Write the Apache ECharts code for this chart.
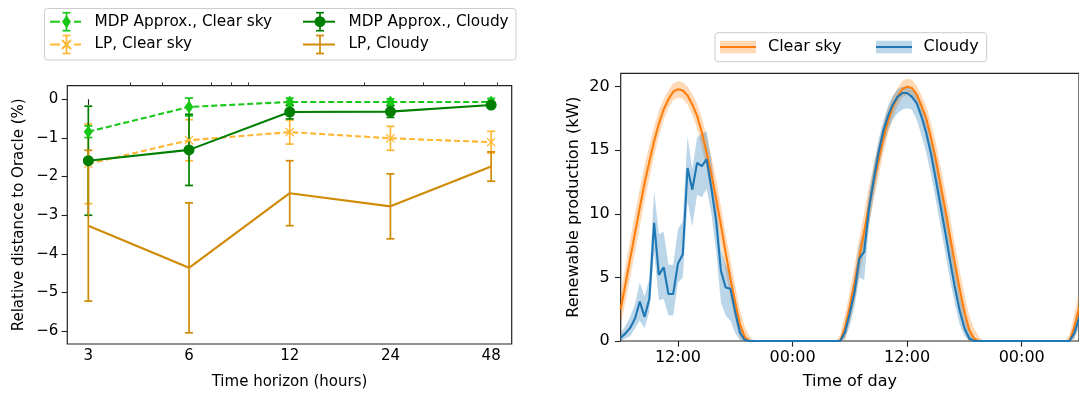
<!DOCTYPE html>
<html><head><meta charset="utf-8">
<script src="https://cdn.jsdelivr.net/npm/echarts@6/dist/echarts.min.js"></script>
<style>html,body{margin:0;padding:0;background:#fff;}#c{width:1079px;height:395px;}</style>
</head><body><div id="c"></div>
<script>
// ================= Left chart data =================
const horizons = [3, 6, 12, 24, 48];
const horizonTickLabels = ['3', '6', '12', '24', '48'];
const horizonMinorTicks = [4, 5, 7, 8, 9, 20, 30, 40, 50];
const horizonRange = [2.596, 55.3];
const yTicksLeft = [-6, -5, -4, -3, -2, -1, 0];
const yRangeLeft = [-6.33, 0.35];

const mdpClear = [-0.84, -0.20, -0.07, -0.07, -0.07];
const mdpClearErr = [0.15, 0.23, 0.10, 0.08, 0.09];
const lpClear = [-1.67, -1.06, -0.85, -1.01, -1.11];
const lpClearErr = [1.03, 0.53, 0.31, 0.31, 0.28];
const mdpCloudy = [-1.59, -1.31, -0.33, -0.32, -0.15];
const mdpCloudyErr = [1.41, 0.92, 0.18, 0.15, 0.05];
const lpCloudy = [-3.27, -4.36, -2.43, -2.77, -1.74];
const lpCloudyErr = [1.95, 1.68, 0.84, 0.84, 0.38];

// ================= Right chart data (every 30 min from 06:00, 48 h) =================
const timeStepHours = 0.5;
const timeTicks = [6, 18, 30, 42];
const timeTickLabels = ['12:00', '00:00', '12:00', '00:00'];
const prodTicks = [0, 5, 10, 15, 20];
const prodMax = 21.05;

const clearSky = [
  2.5, 4.5, 6.5, 8.5, 10.5, 12.4, 14.1, 15.7, 17.1, 18.2, 19.0, 19.6, 19.8, 19.7,
  19.3, 18.6, 17.7, 16.4, 14.8, 13.1, 11.2, 9.1, 6.9, 4.9, 3.0, 1.3, 0.3, 0,
  0, 0, 0, 0, 0, 0, 0, 0, 0, 0, 0, 0, 0, 0, 0, 0, 0, 0,
  0, 1.1, 2.7,
  4.6, 6.6, 8.6, 10.6, 12.5, 14.2, 15.9, 17.3, 18.4, 19.2, 19.8, 20.0, 19.9, 19.4,
  18.5, 17.5, 16.0, 14.3, 12.3, 10.3, 8.2, 6.1, 4.1, 2.3, 0.9, 0.2, 0,
  0, 0, 0, 0, 0, 0, 0, 0, 0, 0, 0, 0, 0, 0, 0, 0, 0, 0,
  0, 1.1, 2.6
];
const clearSpread = [
  1.2, 1.4, 1.5, 1.5, 1.5, 1.4, 1.3, 1.15, 1.0, 0.8, 0.7, 0.65, 0.65, 0.65,
  0.7, 0.8, 0.95, 1.15, 1.3, 1.4, 1.5, 1.5, 1.5, 1.45, 1.35, 1.1, 0.8, 0.4,
  0, 0, 0, 0, 0, 0, 0, 0, 0, 0, 0, 0, 0, 0, 0, 0, 0, 0,
  0.5, 1.0, 1.2,
  1.4, 1.5, 1.5, 1.5, 1.4, 1.3, 1.15, 1.0, 0.8, 0.7, 0.65, 0.65, 0.65, 0.7,
  0.8, 0.95, 1.15, 1.3, 1.4, 1.5, 1.5, 1.5, 1.45, 1.35, 1.1, 0.8, 0.4,
  0, 0, 0, 0, 0, 0, 0, 0, 0, 0, 0, 0, 0, 0, 0, 0, 0, 0,
  0.5, 1.0, 1.2
];
const cloudy = [
  0.26, 0.6, 1.04, 1.77, 3.1, 1.9, 3.3, 9.3, 5.2, 5.8, 3.7, 3.7, 6.1, 6.8,
  13.6, 11.9, 14.0, 13.75, 14.3, 12.0, 9.4, 5.5, 4.2, 4.1, 2.25, 0.65, 0.08, 0,
  0, 0, 0, 0, 0, 0, 0, 0, 0, 0, 0, 0, 0, 0, 0, 0, 0, 0,
  0, 0.7, 2.2,
  3.9, 6.5, 7.0, 10.4, 12.7, 14.8, 16.5, 17.7, 18.6, 19.2, 19.5, 19.5, 19.2, 18.7,
  17.65, 16.35, 14.7, 12.7, 10.6, 8.5, 6.3, 4.2, 2.4, 1.0, 0.2, 0, 0,
  0, 0, 0, 0, 0, 0, 0, 0, 0, 0, 0, 0, 0, 0, 0, 0, 0, 0,
  0, 0.6, 1.8
];
const cloudyUpper = [
  0.6, 1.2, 1.9, 2.9, 4.6, 3.5, 4.9, 11.8, 8.4, 8.6, 6.0, 6.0, 8.8, 9.4,
  16.1, 13.5, 16.0, 16.3, 16.5, 14.2, 11.0, 7.2, 6.0, 5.3, 3.4, 1.3, 0.3, 0,
  0, 0, 0, 0, 0, 0, 0, 0, 0, 0, 0, 0, 0, 0, 0, 0, 0, 0,
  0.2, 1.3, 3.2,
  5.2, 7.6, 8.8, 11.6, 13.8, 15.8, 17.3, 18.5, 19.3, 19.8, 20.0, 20.0, 19.8, 19.4,
  18.6, 17.5, 16.0, 14.2, 12.2, 10.1, 7.9, 5.8, 3.8, 2.0, 0.7, 0.1, 0,
  0, 0, 0, 0, 0, 0, 0, 0, 0, 0, 0, 0, 0, 0, 0, 0, 0, 0,
  0, 1.2, 2.8
];
const cloudyLower = [
  0, 0.2, 0.4, 1.0, 1.6, 1.0, 2.3, 7.0, 3.2, 3.3, 2.0, 2.0, 4.6, 5.0,
  11.0, 9.0, 11.5, 11.3, 12.0, 10.0, 7.0, 3.0, 2.0, 1.6, 0.6, 0.05, 0, 0,
  0, 0, 0, 0, 0, 0, 0, 0, 0, 0, 0, 0, 0, 0, 0, 0, 0, 0,
  0, 0.2, 1.2,
  2.8, 5.0, 4.8, 9.0, 11.4, 13.6, 15.3, 16.6, 17.4, 17.9, 18.2, 18.3, 18.2, 17.4,
  16.2, 14.8, 13.1, 11.1, 9.0, 6.9, 4.8, 2.9, 1.3, 0.4, 0, 0, 0,
  0, 0, 0, 0, 0, 0, 0, 0, 0, 0, 0, 0, 0, 0, 0, 0, 0, 0,
  0, 0.2, 1.0
];

// ================= Styling =================
const FONT = 'DejaVu Sans';
const C_MDP_CLEAR = '#18c818';
const C_MDP_CLOUDY = '#007f00';
const C_LP_CLEAR = '#ffb733';
const C_LP_CLOUDY = '#d08a04';
const C_ORANGE = '#ff7f0e';
const C_BLUE = '#1f77b4';
const F_ORANGE = 'rgba(255,127,14,0.3)';
const F_BLUE = 'rgba(31,119,180,0.3)';
const AXC = '#222';
const X_SYMBOL = 'path://M1,0L5,4L9,0L10,1L6,5L10,9L9,10L5,6L1,10L0,9L4,5L0,1Z';

const lg = Math.log2;
const uminus = v => (v < 0 ? '\u2212' + Math.abs(v) : String(v));

function errRender(color) {
  return function (params, api) {
    const x = api.value(0), lo = api.value(1), hi = api.value(2);
    const a = api.coord([x, lo]), b = api.coord([x, hi]);
    const cw = 4;
    const st = { stroke: color, lineWidth: 1.7, fill: null };
    return { type: 'group', children: [
      { type: 'line', shape: { x1: a[0], y1: a[1], x2: b[0], y2: b[1] }, style: st },
      { type: 'line', shape: { x1: a[0] - cw, y1: a[1], x2: a[0] + cw, y2: a[1] }, style: st },
      { type: 'line', shape: { x1: b[0] - cw, y1: b[1], x2: b[0] + cw, y2: b[1] }, style: st }
    ] };
  };
}
function errSeries(vals, errs, color) {
  return {
    type: 'custom', xAxisIndex: 0, yAxisIndex: 0, silent: true,
    renderItem: errRender(color),
    encode: { x: 0, y: [1, 2] },
    data: horizons.map((h, i) => [lg(h), vals[i] - errs[i], vals[i] + errs[i]])
  };
}
function lineSeries(name, vals, color, dashed, symbol, size) {
  return {
    name, type: 'line', xAxisIndex: 0, yAxisIndex: 0, silent: true,
    data: horizons.map((h, i) => [lg(h), vals[i]]),
    lineStyle: { color, width: 2.1, type: dashed ? [6, 3] : 'solid' },
    itemStyle: { color },
    symbol: symbol || 'none', symbolSize: size, showSymbol: !!symbol
  };
}
const tpair = arr => arr.map((v, i) => [i * timeStepHours, v]);

const clearUpperArr = clearSky.map((v, i) => v + clearSpread[i]);
const clearLowerArr = clearSky.map((v, i) => Math.max(0, v - clearSpread[i]));

function bandSeries(upper, lower, fill) {
  return {
    type: 'custom', xAxisIndex: 2, yAxisIndex: 1, silent: true, clip: true,
    data: [[0, 0]], encode: { x: 0, y: 1 },
    renderItem: (params, api) => {
      const pts = [];
      for (let i = 0; i < upper.length; i++) pts.push(api.coord([i * timeStepHours, upper[i]]));
      for (let i = lower.length - 1; i >= 0; i--) pts.push(api.coord([i * timeStepHours, lower[i]]));
      return { type: 'polygon', shape: { points: pts }, style: { fill } };
    }
  };
}
function tsLine(data, color) {
  return { type: 'line', xAxisIndex: 2, yAxisIndex: 1, silent: true, symbol: 'none',
    lineStyle: { color, width: 2.1 }, data: tpair(data) };
}

// ================= Legends (graphic) =================
const g = [];
function legendBox(x, y, w, h) {
  g.push({ type: 'rect', shape: { x, y, width: w, height: h, r: 3 },
    style: { fill: 'rgba(255,255,255,0.8)', stroke: '#cccccc', lineWidth: 1 }, z: 100 });
}
function text(x, y, t, size) {
  g.push({ type: 'text', x, y, z: 101,
    style: { text: t, font: size + 'px "' + FONT + '"', fill: '#000', verticalAlign: 'middle', align: 'left' } });
}
function ln(x1, y1, x2, y2, color, w) {
  g.push({ type: 'line', z: 101, shape: { x1, y1, x2, y2 }, style: { stroke: color, lineWidth: w } });
}
function leftItem(x0, x1, cy, color, dashed, marker, label, tx) {
  const cx = (x0 + x1) / 2 + 1;
  if (dashed) { ln(x0, cy, x0 + 10, cy, color, 2); ln(x1 - 7, cy, x1, cy, color, 2); }
  else ln(x0, cy, x1, cy, color, 2);
  ln(cx, cy - 9, cx, cy + 9, color, 1.7);
  ln(cx - 4, cy - 9, cx + 4, cy - 9, color, 1.7);
  ln(cx - 4, cy + 9, cx + 4, cy + 9, color, 1.7);
  if (marker === 'diamond') g.push({ type: 'polygon', z: 102, shape: { points: [[cx, cy - 6.5], [cx + 4.5, cy], [cx, cy + 6.5], [cx - 4.5, cy]] }, style: { fill: color } });
  if (marker === 'circle') g.push({ type: 'circle', z: 102, shape: { cx, cy, r: 5.5 }, style: { fill: color } });
  if (marker === 'x') { ln(cx - 4.5, cy - 4.5, cx + 4.5, cy + 4.5, color, 2); ln(cx - 4.5, cy + 4.5, cx + 4.5, cy - 4.5, color, 2); }
  text(tx, cy, label, 15.3);
}
legendBox(44.5, 8.5, 471.5, 51.5);
leftItem(50, 81, 21.7, C_MDP_CLEAR, true, 'diamond', 'MDP Approx., Clear sky', 94.5);
leftItem(50, 81, 44.5, C_LP_CLEAR, true, 'x', 'LP, Clear sky', 94.5);
leftItem(303, 335, 21.7, C_MDP_CLOUDY, false, 'circle', 'MDP Approx., Cloudy', 348.5);
leftItem(303, 335, 44.5, C_LP_CLOUDY, false, null, 'LP, Cloudy', 348.5);

legendBox(715, 32.7, 271.7, 29);
function rightItem(x0, color, fill, label, tx) {
  g.push({ type: 'rect', z: 101, shape: { x: x0, y: 40.7, width: 36, height: 12.5 }, style: { fill } });
  ln(x0, 47, x0 + 36, 47, color, 2);
  text(tx, 47.2, label, 16);
}
rightItem(720, C_ORANGE, F_ORANGE, 'Clear sky', 768);
rightItem(876, C_BLUE, F_BLUE, 'Cloudy', 923.5);

// ================= Option =================
const chart = echarts.init(document.getElementById('c'), null, { renderer: 'canvas' });
const lblL = { color: '#000', fontSize: 15, fontFamily: FONT };
const lblR = { color: '#000', fontSize: 16, fontFamily: FONT };
const option = {
  animation: false,
  textStyle: { fontFamily: FONT },
  grid: [
    { left: 67.3, top: 85.7, width: 444.4, height: 258.8, show: true, borderColor: AXC, borderWidth: 1.2, backgroundColor: 'transparent' },
    { left: 620.7, top: 73.3, width: 460.1, height: 269.4, show: true, borderColor: AXC, borderWidth: 1.2, backgroundColor: 'transparent' }
  ],
  xAxis: [
    { type: 'value', gridIndex: 0, min: lg(horizonRange[0]), max: lg(horizonRange[1]),
      axisLine: { show: false }, splitLine: { show: false },
      axisTick: { show: true, length: 5.7, customValues: horizons.map(lg), lineStyle: { color: AXC, width: 1.1 } },
      axisLabel: Object.assign({ margin: 5, customValues: horizons.map(lg),
        formatter: v => { const i = horizons.findIndex(h => Math.abs(lg(h) - v) < 1e-6); return i >= 0 ? horizonTickLabels[i] : ''; } }, lblL),
      name: 'Time horizon (hours)', nameLocation: 'middle', nameGap: 31,
      nameTextStyle: { color: '#000', fontSize: 15, fontFamily: FONT } },
    { type: 'value', gridIndex: 0, min: lg(horizonRange[0]), max: lg(horizonRange[1]),
      axisLine: { show: false }, splitLine: { show: false },
      axisTick: { show: true, length: 3.3, customValues: horizonMinorTicks.map(lg), lineStyle: { color: AXC, width: 0.9 } },
      axisLabel: { show: false } },
    { type: 'value', gridIndex: 1, min: 0, max: 48,
      axisLine: { show: false }, splitLine: { show: false },
      axisTick: { show: true, length: 5.7, customValues: timeTicks, lineStyle: { color: AXC, width: 1.1 } },
      axisLabel: Object.assign({ margin: 9, customValues: timeTicks,
        formatter: v => { const i = timeTicks.indexOf(v); return i >= 0 ? timeTickLabels[i] : ''; } }, lblR),
      name: 'Time of day', nameLocation: 'middle', nameGap: 33,
      nameTextStyle: { color: '#000', fontSize: 16, fontFamily: FONT } }
  ],
  yAxis: [
    { type: 'value', gridIndex: 0, min: yRangeLeft[0], max: yRangeLeft[1],
      axisLine: { show: false }, splitLine: { show: false },
      axisTick: { show: true, length: 5.7, customValues: yTicksLeft, lineStyle: { color: AXC, width: 1.1 } },
      axisLabel: Object.assign({ margin: 9, customValues: yTicksLeft, formatter: uminus }, lblL),
      name: 'Relative distance to Oracle (%)', nameLocation: 'middle', nameGap: 41,
      nameTextStyle: { color: '#000', fontSize: 15, fontFamily: FONT } },
    { type: 'value', gridIndex: 1, min: 0, max: prodMax,
      axisLine: { show: false }, splitLine: { show: false },
      axisTick: { show: true, length: 5.7, customValues: prodTicks, lineStyle: { color: AXC, width: 1.1 } },
      axisLabel: Object.assign({ margin: 11, customValues: prodTicks }, lblR),
      name: 'Renewable production (kW)', nameLocation: 'middle', nameGap: 39,
      nameTextStyle: { color: '#000', fontSize: 16, fontFamily: FONT } }
  ],
  series: [
    errSeries(mdpClear, mdpClearErr, C_MDP_CLEAR),
    lineSeries('MDP Approx., Clear sky', mdpClear, C_MDP_CLEAR, true, 'diamond', [9, 13]),
    errSeries(lpClear, lpClearErr, C_LP_CLEAR),
    lineSeries('LP, Clear sky', lpClear, C_LP_CLEAR, true, X_SYMBOL, 9),
    errSeries(mdpCloudy, mdpCloudyErr, C_MDP_CLOUDY),
    lineSeries('MDP Approx., Cloudy', mdpCloudy, C_MDP_CLOUDY, false, 'circle', 11),
    errSeries(lpCloudy, lpCloudyErr, C_LP_CLOUDY),
    lineSeries('LP, Cloudy', lpCloudy, C_LP_CLOUDY, false, null, 0),

    bandSeries(clearUpperArr, clearLowerArr, F_ORANGE),
    tsLine(clearSky, C_ORANGE),
    bandSeries(cloudyUpper, cloudyLower, F_BLUE),
    tsLine(cloudy, C_BLUE)
  ],
  graphic: g
};
chart.setOption(option);
</script>
</body></html>
